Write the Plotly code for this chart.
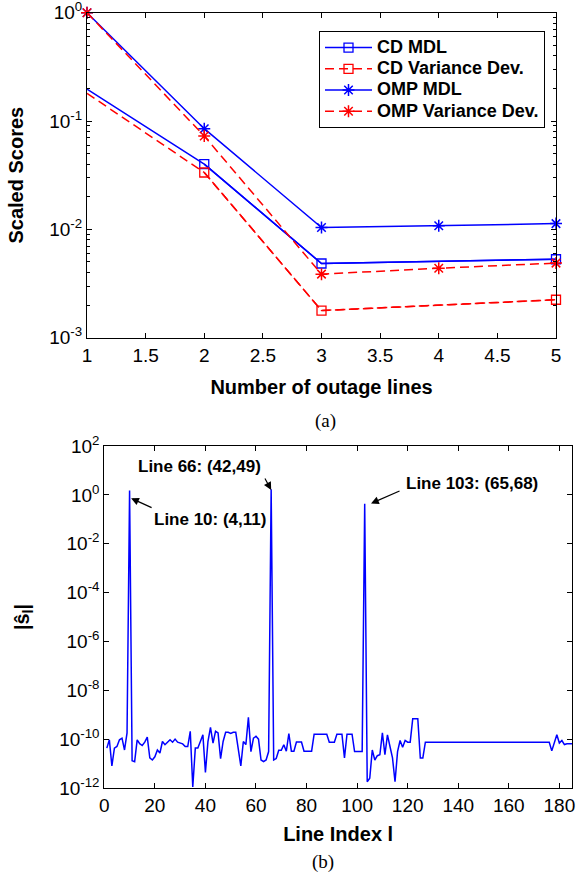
import plotly.graph_objects as go

# ---------------- data: panel (a) ----------------
outage_lines = [1, 2, 3, 4, 5]
cd_x = [1, 2, 3, 5]
cd_mdl = [0.197, 0.040, 0.00484, 0.0053]
cd_var = [0.18, 0.0335, 0.00178, 0.00224]
omp_mdl = [1.0, 0.085, 0.0104, 0.0108, 0.0113]
omp_var = [1.0, 0.0727, 0.00386, 0.00438, 0.00488]
series_names = ["CD MDL", "CD Variance Dev.", "OMP MDL", "OMP Variance Dev."]
xa_ticks = [1, 1.5, 2, 2.5, 3, 3.5, 4, 4.5, 5]
xa_ticklabels = ["1", "1.5", "2", "2.5", "3", "3.5", "4", "4.5", "5"]
ya_ticks = [1e-3, 1e-2, 1e-1, 1]
ya_ticklabels = ["10<sup>-3</sup>", "10<sup>-2</sup>", "10<sup>-1</sup>", "10<sup>0</sup>"]

# ---------------- data: panel (b) ----------------
s_hat = [
    4.3e-11, 9.4e-11, 8.0e-12, 4.3e-11, 5.0e-11, 9.4e-11, 1.1e-10, 3.6e-11, 1.8e-10, 1.5,        # 1-10
    1.3e-11, 1.2e-11, 9.4e-11, 6.5e-11, 5.5e-11, 7.5e-11, 1.2e-10, 1.7e-11, 1.4e-11, 1.9e-11,     # 11-20
    3.6e-11, 2.7e-11, 8.0e-11, 5.9e-11, 7.5e-11, 9.4e-11, 7.5e-11, 1.0e-10, 7.5e-11, 6.9e-11,     # 21-30
    6.4e-11, 5.0e-11, 5.0e-11, 2.1e-10, 1.1e-12, 4.3e-11, 4.3e-11, 8.0e-11, 1.5e-10, 4.3e-12,     # 31-40
    8.0e-11, 3.0e-10, 6.9e-11, 2.1e-10, 1.8e-10, 1.6e-11, 8.0e-11, 1.9e-10, 1.9e-10, 1.7e-10,     # 41-50
    1.9e-10, 1.9e-10, 3.6e-11, 8.0e-12, 8.0e-11, 6.0e-11, 7.8e-10, 3.1e-11, 1.1e-10, 1.3e-10,     # 51-60
    1.0e-10, 1.4e-11, 1.2e-11, 1.4e-11, 3.1e-11, 1.7, 1.4e-11, 1.6e-11, 3.5e-11, 3.5e-11,         # 61-70
    5.9e-11, 3.2e-11, 1.7e-10, 3.2e-11, 3.2e-11, 7.6e-11, 7.6e-11, 7.6e-11, 3.2e-11, 3.2e-11,     # 71-80
    3.2e-11, 3.2e-11, 1.6e-10, 1.6e-10, 1.6e-10, 1.6e-10, 1.6e-10, 1.6e-10, 7.5e-11, 7.5e-11,     # 81-90
    7.5e-11, 1.6e-10, 1.6e-10, 1.6e-10, 1.7e-11, 1.6e-10, 1.6e-10, 1.6e-10, 3.1e-11, 3.1e-11,     # 91-100
    3.1e-11, 3.1e-11, 0.43, 1.8e-12, 2.5e-12, 3.6e-11, 1.4e-11, 2.1e-11, 2.3e-11, 1.8e-10,        # 101-110
    2.3e-11, 1.5e-10, 5.0e-11, 1.7e-11, 1.8e-12, 3.1e-11, 8.8e-11, 4.7e-11, 8.8e-11, 7.5e-11,     # 111-120
    7.5e-11, 6.9e-10, 6.9e-10, 6.9e-10, 1.7e-11, 1.7e-11, 7.5e-11, 7.5e-11, 7.5e-11, 7.5e-11,     # 121-130
    7.5e-11, 7.5e-11, 7.5e-11, 7.5e-11, 7.5e-11, 7.5e-11, 7.5e-11, 7.5e-11, 7.5e-11, 7.5e-11,     # 131-140
    7.5e-11, 7.5e-11, 7.5e-11, 7.5e-11, 7.5e-11, 7.5e-11, 7.5e-11, 7.5e-11, 7.5e-11, 7.5e-11,     # 141-150
    7.5e-11, 7.5e-11, 7.5e-11, 7.5e-11, 7.5e-11, 7.5e-11, 7.5e-11, 7.5e-11, 7.5e-11, 7.5e-11,     # 151-160
    7.5e-11, 7.5e-11, 7.5e-11, 7.5e-11, 7.5e-11, 7.5e-11, 7.5e-11, 7.5e-11, 7.5e-11, 7.5e-11,     # 161-170
    7.5e-11, 7.5e-11, 7.5e-11, 7.5e-11, 7.5e-11, 7.5e-11, 3.3e-11, 7.5e-11, 1.5e-10, 6.9e-11,     # 171-180
    8.8e-11, 6.0e-11, 6.5e-11, 6.5e-11, 6.5e-11,                                                  # 181-185
]
line_index = list(range(1, len(s_hat) + 1))
xb_ticks = [0, 20, 40, 60, 80, 100, 120, 140, 160, 180]
yb_ticks = [1e-12, 1e-10, 1e-8, 1e-6, 1e-4, 1e-2, 1, 1e2]
yb_ticklabels = ["10<sup>-12</sup>", "10<sup>-10</sup>", "10<sup>-8</sup>", "10<sup>-6</sup>",
                 "10<sup>-4</sup>", "10<sup>-2</sup>", "10<sup>0</sup>", "10<sup>2</sup>"]

# annotations (x in line index, y in log10 units): head, tail offset (px), label
arrow_specs = [
    dict(x=10.6, y=-0.14, ax=22, ay=10),
    dict(x=66.0, y=0.20, ax=-7, ay=-13),
    dict(x=105.5, y=-0.35, ax=30, ay=-13),
]
label_specs = [
    dict(text="Line 10: (4,11)", x=19.0, y=-1.0, xanchor="left"),
    dict(text="Line 66: (42,49)", x=37.7, y=1.15, xanchor="center"),
    dict(text="Line 103: (65,68)", x=118.6, y=0.47, xanchor="left"),
]

BLUE = "rgb(0,0,255)"
RED = "rgb(255,0,0)"
FONT = "Liberation Sans, Arial, sans-serif"
DASH = "9px,5px"


def lg(name):
    return "<span style='font-size:18px'>" + name + "</span>"


fig = go.Figure()

# ---- panel (a) ----
fig.add_trace(go.Scatter(x=cd_x, y=cd_mdl, mode="lines", line=dict(color=BLUE, width=1.5),
                         showlegend=False, xaxis="x", yaxis="y", hoverinfo="skip"))
fig.add_trace(go.Scatter(x=cd_x[1:], y=cd_mdl[1:], mode="lines+markers", name=lg(series_names[0]),
                         line=dict(color=BLUE, width=1.5),
                         marker=dict(symbol="square-open", size=9, color=BLUE, line=dict(width=1.3)),
                         cliponaxis=False, xaxis="x", yaxis="y"))
fig.add_trace(go.Scatter(x=cd_x, y=cd_var, mode="lines", line=dict(color=RED, width=1.5, dash=DASH),
                         showlegend=False, xaxis="x", yaxis="y", hoverinfo="skip"))
fig.add_trace(go.Scatter(x=cd_x[1:], y=cd_var[1:], mode="lines+markers", name=lg(series_names[1]),
                         line=dict(color=RED, width=1.5, dash=DASH),
                         marker=dict(symbol="square-open", size=9, color=RED, line=dict(width=1.3)),
                         cliponaxis=False, xaxis="x", yaxis="y"))
fig.add_trace(go.Scatter(x=outage_lines, y=omp_mdl, mode="lines+markers", name=lg(series_names[2]),
                         line=dict(color=BLUE, width=1.5),
                         marker=dict(symbol="asterisk-open", size=10, color=BLUE, line=dict(width=1.5, color=BLUE)),
                         cliponaxis=False, xaxis="x", yaxis="y"))
fig.add_trace(go.Scatter(x=outage_lines, y=omp_var, mode="lines+markers", name=lg(series_names[3]),
                         line=dict(color=RED, width=1.5, dash=DASH),
                         marker=dict(symbol="asterisk-open", size=10, color=RED, line=dict(width=1.5, color=RED)),
                         cliponaxis=False, xaxis="x", yaxis="y"))

# ---- panel (b) ----
fig.add_trace(go.Scatter(x=line_index, y=s_hat, mode="lines", line=dict(color=BLUE, width=1.5),
                         showlegend=False, xaxis="x2", yaxis="y2"))

W, H = 577, 879
axis_common = dict(showline=True, linecolor="black", linewidth=1, mirror="ticks", ticks="inside",
                   ticklen=5, tickcolor="black", showgrid=False, zeroline=False, automargin=False,
                   ticklabeloverflow="allow",
                   tickfont=dict(family=FONT, size=19, color="black"))

fig.update_layout(
    width=W, height=H, margin=dict(l=0, r=0, t=0, b=0, autoexpand=False),
    paper_bgcolor="white", plot_bgcolor="white",
    font=dict(family=FONT, color="black"),
    xaxis=dict(axis_common, domain=[87 / W, 556 / W], anchor="y", range=[1, 5],
               tickvals=xa_ticks, ticktext=xa_ticklabels,
               title=dict(text="Number of outage lines", font=dict(size=20, weight="bold"), standoff=15)),
    yaxis=dict(axis_common, domain=[1 - 337.7 / H, 1 - 12.7 / H], anchor="x", type="log", range=[-3, 0],
               tickvals=ya_ticks, ticktext=ya_ticklabels,
               minor=dict(ticks="inside", ticklen=3, tickcolor="black", dtick="D1", showgrid=False),
               title=dict(text="Scaled Scores", font=dict(size=20, weight="bold"), standoff=20)),
    xaxis2=dict(axis_common, domain=[104.3 / W, 572 / W], anchor="y2", range=[0, 185],
                tickvals=xb_ticks,
                title=dict(text="Line Index l", font=dict(size=20, weight="bold"), standoff=12)),
    yaxis2=dict(axis_common, domain=[1 - 788 / H, 1 - 446 / H], anchor="x2", type="log", range=[-12, 2],
                tickvals=yb_ticks, ticktext=yb_ticklabels,
                title=dict(text="|ŝ<sub>l</sub>|", font=dict(size=20, weight="bold"), standoff=24)),
    legend=dict(x=319 / W, y=1 - 31 / H, xanchor="left", yanchor="top",
                bordercolor="black", borderwidth=1, bgcolor="white",
                font=dict(family=FONT, size=14, color="black", weight="bold"),
                tracegroupgap=0, itemwidth=47),
)

annotations = []
for a in arrow_specs:
    annotations.append(dict(xref="x2", yref="y2", x=a["x"], y=a["y"], ax=a["ax"], ay=a["ay"],
                            text="", showarrow=True, arrowhead=2, arrowsize=1.3, arrowwidth=1.2,
                            arrowcolor="black"))
for l in label_specs:
    annotations.append(dict(xref="x2", yref="y2", x=l["x"], y=l["y"], text=l["text"], showarrow=False,
                            xanchor=l["xanchor"], yanchor="middle",
                            font=dict(family=FONT, size=17, color="black", weight="bold")))
annotations.append(dict(xref="paper", yref="paper", x=325 / W, y=1 - 421 / H, text="(a)", showarrow=False,
                        xanchor="center", yanchor="middle",
                        font=dict(family="Liberation Serif, Times New Roman, serif", size=19, color="black")))
annotations.append(dict(xref="paper", yref="paper", x=323 / W, y=1 - 862 / H, text="(b)", showarrow=False,
                        xanchor="center", yanchor="middle",
                        font=dict(family="Liberation Serif, Times New Roman, serif", size=19, color="black")))
fig.update_layout(annotations=annotations)

fig.write_html("out.html", config={"displayModeBar": False, "staticPlot": True},
               post_script="document.body.style.margin='0';document.body.style.overflow='hidden';")
